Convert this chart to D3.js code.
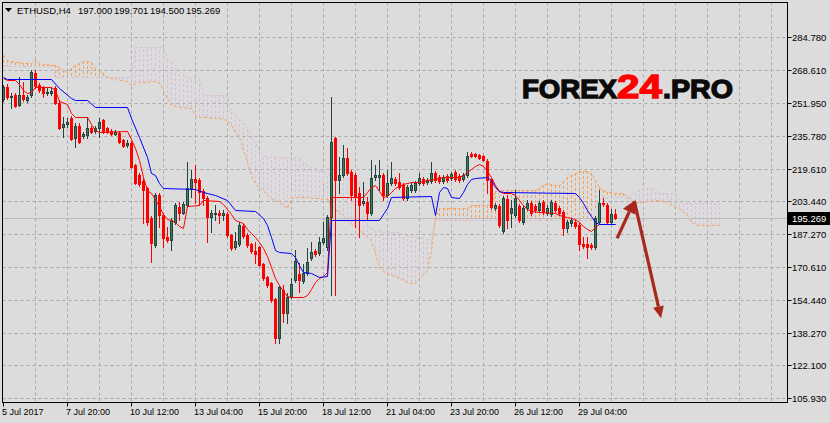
<!DOCTYPE html>
<html><head><meta charset="utf-8">
<script src="https://cdn.jsdelivr.net/npm/d3@7"></script>
<style>
html,body{margin:0;padding:0;background:#dcdcdc;}
svg{display:block;}
text{font-family:"Liberation Sans",Arial,sans-serif;}
</style></head><body>
<svg id="chart" width="830" height="423"></svg>
<script>
// ---------- DATA ----------
const symbolName = "ETHUSD,H4";
const lastQuote = ["197.000", "199.701", "194.500", "195.269"];
const currentPrice = 195.269;

const open = [
254.1,260.1,255.1,256.1,251.1,256.1,253.6,256.1,267.0,261.0,
259.6,257.1,257.1,259.6,252.1,240.1,241.6,244.6,234.8,240.6,
235.8,236.3,239.6,238.3,239.6,243.6,239.6,238.3,236.8,237.3,
233.8,231.3,232.3,221.3,216.5,213.5,210.0,195.2,181.7,206.5,
196.5,185.7,184.2,193.2,200.5,197.5,201.5,210.0,214.5,214.0,
208.5,205.0,195.5,197.0,197.5,196.5,197.0,186.7,180.7,182.2,
191.2,186.7,182.2,178.7,180.7,172.4,165.9,162.9,154.9,135.6,
159.4,148.1,155.9,164.4,167.4,163.9,167.9,175.2,178.7,177.7,
183.2,180.7,195.7,234.8,214.0,216.5,224.8,217.8,216.5,207.5,
202.5,203.0,197.5,215.5,215.5,216.5,206.5,212.5,214.5,213.0,
211.5,205.0,209.0,209.0,212.5,214.5,213.0,213.5,217.3,215.5,
213.5,216.0,215.0,217.8,216.0,214.5,216.5,226.8,226.8,226.3,
225.8,223.3,214.0,200.0,201.0,188.7,204.5,197.5,196.5,201.0,
193.2,200.0,202.5,201.0,199.0,203.0,197.5,197.0,202.5,200.0,
198.0,190.2,192.7,193.2,191.7,182.2,182.2,181.7,180.7,193.2,
202.5,201.5,193.2,197.000];
const high = [
261.0,261.5,257.1,257.1,265.0,262.5,256.1,268.5,268.5,262.0,
260.5,259.6,259.6,260.5,253.6,245.1,244.6,245.6,242.1,242.1,
237.8,245.1,240.6,240.6,244.6,244.1,240.1,239.1,238.8,238.3,
234.3,233.8,233.3,221.8,217.3,215.0,210.5,196.2,207.5,207.5,
197.5,190.7,195.2,202.5,203.0,203.0,222.8,218.8,221.3,215.0,
209.5,206.0,199.0,201.5,199.0,199.0,198.0,187.2,188.2,193.2,
192.2,187.7,182.7,183.2,181.2,172.9,166.4,163.4,155.4,161.4,
161.9,157.9,165.4,179.2,172.9,172.4,180.2,183.2,179.7,185.7,
193.2,196.5,255.1,235.3,225.3,231.3,229.8,218.8,217.3,210.5,
213.0,205.5,223.8,221.3,223.8,217.3,218.8,222.8,215.5,217.3,
212.5,211.5,212.5,213.5,217.3,215.5,215.0,222.8,218.3,216.5,
216.5,217.0,217.8,218.8,217.0,217.3,227.8,227.8,227.3,226.8,
226.3,224.3,215.0,202.5,202.0,206.0,206.5,204.0,209.0,202.0,
201.5,204.0,203.5,202.0,203.5,204.0,201.5,204.0,203.5,201.0,
199.0,194.2,195.2,194.2,192.7,185.7,185.7,182.7,196.2,209.0,
205.0,202.5,199.5,199.701];
const low = [
253.1,254.1,249.6,250.1,250.6,253.1,252.6,255.1,259.6,257.6,
255.1,256.1,256.1,251.6,239.1,235.3,240.1,233.8,230.3,232.3,
234.8,234.8,237.3,237.3,235.3,237.3,237.3,236.3,236.3,232.3,
230.3,230.3,219.8,212.0,211.0,192.7,191.7,173.4,180.7,190.7,
180.7,183.2,179.2,192.2,194.2,197.0,200.5,205.5,202.5,201.5,
201.5,183.2,188.2,194.2,192.7,194.2,185.7,179.2,179.7,181.2,
185.2,180.7,177.7,172.9,171.4,164.4,160.9,153.4,133.1,133.1,
143.6,143.1,155.4,163.4,158.4,162.9,166.9,174.2,176.2,176.7,
182.2,179.2,156.9,156.9,207.5,215.5,216.5,204.0,190.7,185.7,
201.5,194.2,196.5,214.0,209.0,204.0,205.5,211.5,211.5,209.5,
204.0,204.0,208.0,208.0,211.5,211.5,212.0,212.5,213.0,212.5,
212.5,213.0,214.0,213.5,213.0,213.5,215.5,225.3,225.3,224.3,
223.3,207.5,199.5,199.0,190.7,187.7,190.2,190.7,195.5,193.2,
192.2,199.0,196.5,198.0,198.0,197.0,196.5,196.0,198.0,196.5,
186.7,188.2,191.2,190.2,179.2,180.2,175.2,179.7,179.7,192.2,
201.0,192.2,192.2,194.500];
const close = [
260.1,255.1,255.6,250.6,256.1,254.1,255.1,267.5,260.5,258.6,
257.1,257.6,258.1,252.1,239.6,241.6,242.6,234.3,240.6,232.8,
236.8,239.6,237.8,239.6,242.6,237.8,237.8,236.8,237.8,232.8,
230.8,232.3,220.3,212.5,212.0,209.0,193.2,182.7,206.5,196.5,
185.2,184.2,194.2,201.5,197.5,202.0,210.0,214.5,213.0,208.0,
205.0,195.5,197.5,197.5,196.5,197.5,186.7,180.2,183.7,191.7,
186.2,181.7,178.7,177.2,171.9,165.4,161.9,154.4,135.6,160.9,
148.1,155.9,162.4,173.9,164.4,167.9,173.4,178.2,177.2,183.2,
185.2,195.7,232.8,214.0,216.5,224.8,217.3,206.5,205.5,201.5,
203.5,197.5,215.0,216.5,216.5,206.5,212.5,215.0,212.5,210.5,
205.0,210.5,211.5,212.5,215.0,212.5,214.0,217.3,214.0,213.5,
215.5,214.0,217.0,214.5,214.0,216.5,225.8,225.8,225.8,224.8,
223.8,214.0,200.5,201.5,191.7,205.0,194.2,200.0,205.0,194.2,
200.0,202.5,197.5,199.0,202.5,198.0,200.0,203.0,199.0,197.5,
190.2,193.2,194.2,191.2,182.2,181.2,180.7,180.7,195.2,202.5,
202.0,193.2,197.0,195.269];

// Ichimoku: Tenkan-sen and Kijun-sen as [bar, price] points
const tenkan = [[0,264.5],[1,263.5],[3,263.5],[4,261.5],[5,258.5],[6,257.0],[7,257.5],[8,260.0],[12,260.0],[13,258.5],[14,253.1],[16,251.6],[17,247.1],[18,245.1],[21,245.1],[22,241.7],[23,238.7],[24,237.7],[31,238.2],[32,234.2],[33,229.8],[34,223.8],[35,215.4],[36,209.0],[37,207.5],[38,204.5],[39,201.0],[40,197.1],[41,194.6],[42,194.1],[43,193.1],[44,191.1],[45,190.1],[46,201.0],[49,201.5],[50,204.0],[54,203.5],[55,202.0],[57,197.1],[58,194.1],[60,192.6],[61,189.7],[62,187.7],[63,185.7],[64,183.2],[65,180.2],[66,176.3],[67,170.8],[68,165.4],[69,161.9],[70,158.9],[71,156.5],[72,156.0],[75,156.0],[76,157.0],[77,159.9],[78,163.4],[79,165.4],[80,166.4],[81,168.4],[82,205.5],[90,205.5],[91,208.0],[92,210.5],[93,211.5],[94,208.5],[95,205.5],[96,206.0],[97,208.0],[98,210.0],[99,211.0],[100,212.0],[102,213.0],[104,213.0],[106,213.9],[108,214.4],[110,215.4],[114,215.4],[115,216.4],[116,217.9],[117,219.4],[118,220.9],[119,221.9],[120,220.9],[121,218.4],[122,215.4],[123,211.5],[124,208.5],[125,207.5],[127,207.5],[128,206.5],[129,204.0],[130,201.5],[131,199.6],[132,198.6],[134,198.1],[138,197.6],[139,196.6],[141,195.6],[143,194.6],[144,193.1],[145,191.1],[146,189.7],[147,188.7],[148,190.7],[149,192.1],[153,192.1]];
const kijun = [[0,265.0],[1,264.0],[12,264.0],[14,259.5],[17,254.6],[18,253.6],[21,253.6],[23,250.1],[31,250.1],[32,244.6],[34,235.2],[36,225.3],[37,217.4],[38,216.4],[39,212.4],[40,210.0],[48,209.5],[50,208.0],[53,206.5],[56,204.0],[58,199.1],[63,198.6],[65,195.1],[66,191.6],[67,185.7],[68,179.2],[69,178.3],[72,177.8],[73,175.8],[74,171.8],[75,168.3],[77,167.9],[79,165.9],[81,166.4],[82,194.1],[94,194.1],[96,200.1],[97,205.5],[107,206.0],[108,196.6],[109,208.0],[110,210.5],[111,210.0],[112,205.5],[114,205.0],[115,208.0],[116,212.0],[117,214.4],[118,214.9],[121,215.4],[122,213.9],[123,210.5],[124,208.5],[125,208.0],[143,207.5],[144,205.5],[145,202.5],[146,199.1],[147,196.1],[148,193.1],[149,192.1],[153,192.1]];

// Senkou Span A / B, one value per bar (bars 0..179, shifted 26 bars ahead)
const spanA = [
275.9,273.4,272.9,272.4,272.4,271.9,271.9,271.9,273.9,271.9,
271.4,271.4,270.9,270.9,269.9,268.4,267.4,269.4,270.9,271.9,
272.9,272.9,272.4,269.4,267.9,266.9,264.9,264.4,264.0,263.5,
263.5,262.5,261.0,262.0,262.5,262.5,262.5,263.0,263.0,262.0,
258.5,254.5,251.1,250.6,250.1,250.1,249.6,249.6,246.1,245.1,
245.1,245.1,244.6,244.6,244.6,244.1,243.7,241.2,237.7,235.2,
228.8,222.8,216.4,212.4,210.5,209.0,206.5,205.0,204.0,203.0,
201.5,200.1,205.0,205.5,205.5,205.5,205.5,205.0,205.0,205.0,
204.5,204.5,201.5,199.6,197.6,196.1,194.1,192.1,190.6,189.2,
187.7,185.7,184.2,177.8,170.3,168.8,167.9,166.9,166.4,165.4,
164.4,163.4,162.9,162.9,165.4,167.4,169.3,179.2,195.6,200.1,
200.1,200.1,200.1,200.1,200.1,200.1,200.1,201.5,201.5,201.5,
201.5,201.5,201.5,208.5,209.0,209.0,209.0,209.0,209.0,209.0,
209.0,209.0,209.0,209.0,210.0,211.5,212.4,211.9,211.5,211.5,
213.4,215.4,216.4,217.4,217.9,218.4,218.4,217.4,213.9,210.5,
209.0,208.0,208.0,207.5,207.5,207.5,205.5,204.0,203.0,203.0,
203.0,203.5,203.5,204.0,204.0,203.5,203.0,201.5,200.5,200.1,
198.1,196.6,193.1,192.1,191.6,191.6,191.6,191.6,191.6,191.6];
const spanB = [
270.4,270.4,270.4,270.4,270.4,270.4,270.4,270.4,270.4,270.4,
270.4,270.4,270.4,264.9,264.9,264.9,264.9,264.9,264.9,264.9,
264.9,264.9,264.9,264.9,264.9,264.9,264.9,264.9,264.9,264.9,
264.9,264.9,264.9,279.8,279.8,279.8,279.8,279.8,279.8,279.8,
279.8,274.4,272.9,270.9,268.4,266.4,264.9,264.4,264.4,264.4,
256.0,256.0,256.0,256.0,256.0,256.0,256.0,247.6,246.1,244.1,
242.7,239.7,236.2,232.8,228.8,226.3,225.3,225.3,225.3,225.3,
225.3,225.3,225.3,225.3,225.3,222.3,221.4,220.4,219.9,218.9,
217.9,216.9,216.4,215.9,215.4,214.9,214.9,213.9,213.4,212.4,
212.4,191.6,190.1,189.2,189.2,188.2,188.2,188.2,188.2,188.2,
187.2,186.7,186.2,185.7,185.2,185.2,184.7,184.2,194.1,194.1,
194.1,194.1,194.1,194.1,194.1,194.1,194.1,194.1,194.1,194.1,
194.1,194.1,194.1,194.1,194.1,194.1,194.1,194.1,194.1,194.1,
194.1,194.1,194.1,194.1,194.1,194.1,194.1,194.1,194.1,194.1,
194.1,194.1,194.1,194.1,194.1,194.1,194.1,194.1,199.1,204.0,
205.5,205.5,205.5,205.5,205.5,205.5,205.0,206.5,208.0,209.0,
210.0,210.0,210.0,209.0,207.5,207.5,207.5,207.5,207.5,203.0,
202.5,202.5,202.5,202.5,202.5,202.5,202.5,202.5,202.5,202.5];

const yTickValues = [284.780,268.610,251.950,235.780,219.610,203.440,187.270,170.610,154.440,138.270,122.100,105.930];
const xTickBars = [0,16,32,48,64,80,96,112,128,144];
const xTickLabels = ["5 Jul 2017","7 Jul 20:00","10 Jul 12:00","13 Jul 04:00","15 Jul 20:00","18 Jul 12:00","21 Jul 04:00","23 Jul 20:00","26 Jul 12:00","29 Jul 04:00"];
// forecast arrow drawn on the chart: [bar, price]
const forecastArrow = [[153.4,185.0],[157.7,203.6],[164.4,145.4]];

// ---------- DRAW ----------
const W = 830, H = 423;
const P = {l:2.5, t:2.5, r:787.5, b:402.5};
const x = d3.scaleLinear().domain([0, 196]).range([3.5, 3.5 + 4*196]);
const y = d3.scaleLinear().domain([105.93, 284.78]).range([398, 37]);
const py = v => Math.round(y(v));

const svg = d3.select("#chart");
svg.append("rect").attr("width", W).attr("height", H).attr("fill", "#dcdcdc");
svg.append("clipPath").attr("id","pc").append("rect")
  .attr("x", P.l).attr("y", P.t).attr("width", P.r-P.l).attr("height", P.b-P.t);
const g = svg.append("g").attr("clip-path","url(#pc)");

// grid
const gridColor = "#a9a9a9";
d3.range(8, 197, 8).forEach(b => {
  g.append("line").attr("x1", x(b)).attr("x2", x(b)).attr("y1", P.t).attr("y2", P.b)
   .attr("stroke", gridColor).attr("stroke-dasharray","3,3");
});
yTickValues.forEach(v => {
  g.append("line").attr("x1", P.l).attr("x2", P.r).attr("y1", py(v)+0.5).attr("y2", py(v)+0.5)
   .attr("stroke", gridColor).attr("stroke-dasharray","3,3");
});

// cloud hatch
const orange = "#f4a460", thistle = "#d8bfd8";
spanA.forEach((a, i) => {
  const b = spanB[i];
  g.append("line").attr("x1", x(i)).attr("x2", x(i))
   .attr("y1", py(a)).attr("y2", py(b))
   .attr("stroke", a >= b ? orange : thistle).attr("stroke-dasharray","3,2");
});
const spanLine = d3.line().x((d,i)=>x(i)).y(d=>py(d)+0.5);
g.append("path").attr("d", spanLine(spanB)).attr("fill","none").attr("stroke", thistle).attr("stroke-dasharray","3,2");
g.append("path").attr("d", spanLine(spanA)).attr("fill","none").attr("stroke", orange).attr("stroke-dasharray","3,2");

// current price line
g.append("line").attr("x1", P.l).attr("x2", P.r).attr("y1", py(currentPrice)+0.5).attr("y2", py(currentPrice)+0.5)
 .attr("stroke","#bcbcbc");

// candles
const bullLine = "#22443a", bearCol = "#ff0000";
open.forEach((o, i) => {
  const c = close[i], h = high[i], l = low[i];
  const bull = c >= o;
  const cx = x(i);
  const col = bull ? bullLine : bearCol;
  g.append("line").attr("x1", cx).attr("x2", cx).attr("y1", py(h)).attr("y2", py(l)+1).attr("stroke", col);
  const top = py(Math.max(o,c)), bot = py(Math.min(o,c));
  const hgt = Math.max(1, bot - top);
  if (bull) {
    g.append("rect").attr("x", cx-1.5).attr("y", top).attr("width", 3).attr("height", hgt+1).attr("fill", bullLine);
    if (hgt > 1) g.append("rect").attr("x", cx-0.5).attr("y", top+1).attr("width", 1).attr("height", hgt-1).attr("fill", "#3d7d66");
  } else {
    g.append("rect").attr("x", cx-1.5).attr("y", top).attr("width", 3).attr("height", hgt+1).attr("fill", bearCol);
  }
});

// tenkan / kijun
const ptLine = d3.line().x(d=>x(d[0])).y(d=>py(d[1])+0.5);
g.append("path").attr("d", ptLine(tenkan)).attr("fill","none").attr("stroke","#ff0000");
g.append("path").attr("d", ptLine(kijun)).attr("fill","none").attr("stroke","#0000ff");

// watermark
const wm = svg.append("g").attr("font-family","Lato, 'Open Sans', sans-serif").attr("font-weight",900)
  .attr("lengthAdjust","spacingAndGlyphs");
wm.append("text").attr("x",522).attr("y",98).attr("font-size",26).attr("textLength",95).attr("lengthAdjust","spacingAndGlyphs")
  .attr("fill","#0a0a0a").attr("stroke","#0a0a0a").attr("stroke-width",1.3).text("FOREX");
wm.append("text").attr("x",617).attr("y",98).attr("font-size",33).attr("textLength",45).attr("lengthAdjust","spacingAndGlyphs")
  .attr("fill","#ff0000").attr("stroke","#ff0000").attr("stroke-width",1.3).text("24");
wm.append("text").attr("x",663).attr("y",98).attr("font-size",26).attr("textLength",70).attr("lengthAdjust","spacingAndGlyphs")
  .attr("fill","#0a0a0a").attr("stroke","#0a0a0a").attr("stroke-width",1.3).text(".PRO");

// forecast arrows
const arrowCol = "#a8281e";
function arrow(p0, p1, headLen, headW) {
  const x0 = x(p0[0]), y0 = y(p0[1]), x1 = x(p1[0]), y1 = y(p1[1]);
  const dx = x1-x0, dy = y1-y0, len = Math.hypot(dx,dy), ux = dx/len, uy = dy/len;
  const bx = x1 - ux*headLen, by = y1 - uy*headLen;
  svg.append("line").attr("x1", x0).attr("y1", y0).attr("x2", bx).attr("y2", by)
    .attr("stroke", arrowCol).attr("stroke-width", 3.2);
  svg.append("path").attr("d", `M${x1},${y1}L${bx - uy*headW},${by + ux*headW}L${bx + uy*headW},${by - ux*headW}Z`)
    .attr("fill", arrowCol);
}
arrow(forecastArrow[0], forecastArrow[1], 12, 7);
arrow(forecastArrow[1], forecastArrow[2], 12, 5.5);

// border
svg.append("rect").attr("x", P.l).attr("y", P.t).attr("width", P.r-P.l).attr("height", P.b-P.t)
  .attr("fill","none").attr("stroke","#000");

// right axis
const yAxis = svg.append("g").attr("transform", `translate(${P.r},0)`);
yTickValues.forEach(v => {
  const yy = py(v)+0.5;
  yAxis.append("line").attr("x1",0).attr("x2",4).attr("y1",yy).attr("y2",yy).attr("stroke","#000");
  yAxis.append("text").attr("x",4.5).attr("y",yy).attr("dy","0.35em").attr("font-size",9.5).attr("fill","#000")
    .text(d3.format(".3f")(v));
});
// current price tag
const cpy = py(currentPrice)+0.5;
svg.append("rect").attr("x", 788).attr("y", cpy-6.5).attr("width", 42).attr("height", 13).attr("fill","#000");
svg.append("text").attr("x", 792).attr("y", cpy).attr("dy","0.35em").attr("font-size",9.5).attr("fill","#fff")
  .text(d3.format(".3f")(currentPrice));

// bottom axis
const xAxis = svg.append("g").attr("transform", `translate(0,${P.b})`);
xTickBars.forEach((b, i) => {
  xAxis.append("line").attr("x1", x(b)).attr("x2", x(b)).attr("y1",0).attr("y2",4).attr("stroke","#000");
  xAxis.append("text").attr("x", x(b)-1.5).attr("y", 12.5).attr("font-size",9).attr("fill","#000").text(xTickLabels[i]);
});

// header
svg.append("path").attr("d","M5,8L12,8L8.5,12Z").attr("fill","#000");
svg.append("text").attr("x",17).attr("y",14).attr("font-size",9.5).attr("fill","#000").text(symbolName);
const qx = [78,114,150,186];
lastQuote.forEach((q,i)=> svg.append("text").attr("x",qx[i]).attr("y",14).attr("font-size",9.5).attr("fill","#000").text(q));
</script>
</body></html>
